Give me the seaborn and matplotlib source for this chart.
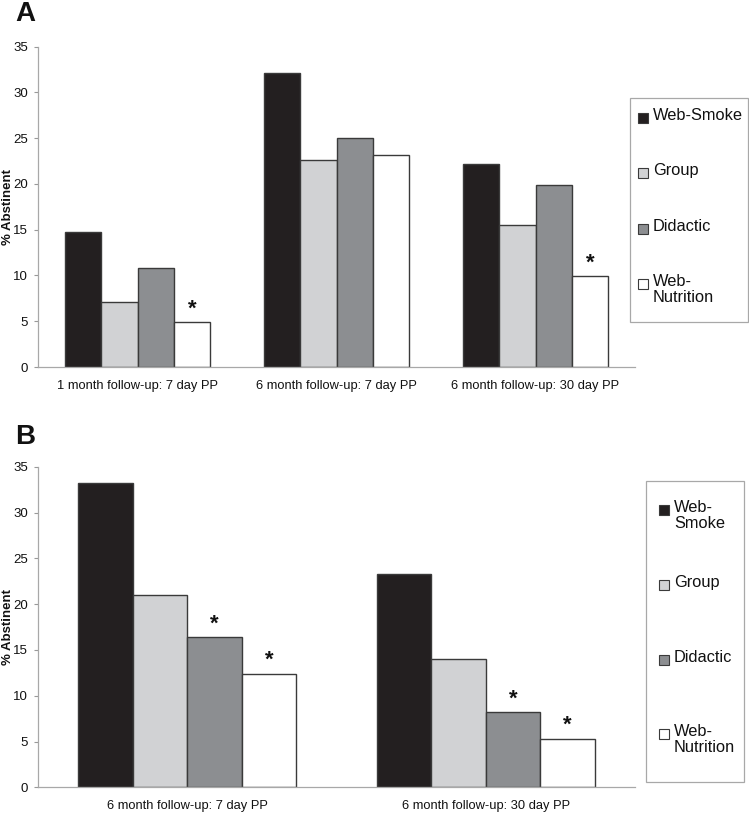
import matplotlib
matplotlib.use("Agg")
import matplotlib.pyplot as plt
import seaborn as sns
import pandas as pd
import numpy as np
from matplotlib.patches import Rectangle

# ---------------- data ----------------
groups = ["Web-Smoke", "Group", "Didactic", "Web-Nutrition"]

categories_A = ["1 month follow-up: 7 day PP", "6 month follow-up: 7 day PP",
                "6 month follow-up: 30 day PP"]
web_smoke_A = [14.8, 32.1, 22.2]
group_A = [7.1, 22.6, 15.5]
didactic_A = [10.8, 25.0, 19.9]
web_nutrition_A = [4.9, 23.2, 9.9]
sig_A = {"Web-Nutrition": [True, False, True]}

categories_B = ["6 month follow-up: 7 day PP", "6 month follow-up: 30 day PP"]
web_smoke_B = [33.2, 23.3]
group_B = [21.0, 14.0]
didactic_B = [16.4, 8.2]
web_nutrition_B = [12.4, 5.3]
sig_B = {"Didactic": [True, True], "Web-Nutrition": [True, True]}

yticks = [0, 5, 10, 15, 20, 25, 30, 35]
ylabel = "% Abstinent"

colors = ["#231f20", "#d1d2d4", "#8c8e91", "#ffffff"]

def make_df(cats, series):
    rows = []
    for g, vals in zip(groups, series):
        for c, v in zip(cats, vals):
            rows.append({"category": c, "group": g, "value": v})
    return pd.DataFrame(rows)

df_A = make_df(categories_A, [web_smoke_A, group_A, didactic_A, web_nutrition_A])
df_B = make_df(categories_B, [web_smoke_B, group_B, didactic_B, web_nutrition_B])

# ---------------- figure ----------------
sns.set_theme(style="white")
plt.rcParams["font.family"] = ["Liberation Sans", "DejaVu Sans"]

W, H = 749, 814
fig = plt.figure(figsize=(W / 100, H / 100), dpi=100)

def fx(px):
    return px / W

def fy(py):
    return 1 - py / H

ax_A = fig.add_axes([fx(38), fy(367), fx(635) - fx(38), fy(46.7) - fy(367)])
ax_B = fig.add_axes([fx(38), fy(787.3), fx(635) - fx(38), fy(466.7) - fy(787.3)])

def draw_panel(ax, df, cats, sig):
    sns.barplot(data=df, x="category", y="value", hue="group", hue_order=groups,
                order=cats, palette=colors, width=0.73, gap=0, ax=ax,
                edgecolor="#3a3a3a", linewidth=1.0, legend=False, errorbar=None,
                saturation=1)
    ax.set_ylim(0, 35)
    ax.set_xlim(-0.5, len(cats) - 0.5)
    ax.set_yticks(yticks)
    ax.set_yticklabels([str(t) for t in yticks], fontsize=9.5)
    ax.set_xticks(range(len(cats)))
    ax.set_xticklabels(cats, fontsize=9.3)
    ax.set_xticks(np.arange(-0.5, len(cats), 1.0), minor=True)
    ax.tick_params(axis="x", which="major", length=0, pad=9, colors="#111111")
    ax.tick_params(axis="x", which="minor", length=4, width=0.8, color="#999999")
    ax.tick_params(axis="y", which="major", length=3, width=0.8, color="#999999",
                   pad=4, labelcolor="#111111", left=True)
    ax.set_xlabel("")
    ax.set_ylabel(ylabel, fontsize=9.5, fontweight="bold", color="#111111")
    for s in ["top", "right"]:
        ax.spines[s].set_visible(False)
    for s in ["left", "bottom"]:
        ax.spines[s].set_color("#a8a8a8")
        ax.spines[s].set_linewidth(0.9)
    # significance asterisks
    for gi, g in enumerate(groups):
        if g not in sig:
            continue
        cont = ax.containers[gi]
        for ci, flag in enumerate(sig[g]):
            if flag:
                bar = cont[ci]
                ax.annotate("*", xy=(bar.get_x() + bar.get_width() / 2, bar.get_height()),
                            xytext=(0, 5.5), textcoords="offset points",
                            ha="center", va="baseline", fontsize=16,
                            fontweight="bold", color="#111111")

draw_panel(ax_A, df_A, categories_A, sig_A)
draw_panel(ax_B, df_B, categories_B, sig_B)
# y-label centre at ~8 px from the figure's left edge
for ax in (ax_A, ax_B):
    pos = ax.get_position()
    ax.yaxis.set_label_coords(-(pos.x0 - fx(8)) / pos.width, 0.5)
    ax.yaxis.label.set_va("center")

# panel letters
fig.text(fx(15), fy(21), "A", fontsize=20, fontweight="bold", ha="left", va="baseline",
         color="#111111")
fig.text(fx(15), fy(444), "B", fontsize=20, fontweight="bold", ha="left", va="baseline",
         color="#111111")

# legends (manual frame + entries)
def draw_legend(box, entries, marker_x, text_x):
    x0, y0, x1, y1 = box
    fig.add_artist(Rectangle((fx(x0), fy(y1)), fx(x1) - fx(x0), fy(y0) - fy(y1),
                             transform=fig.transFigure, facecolor="white",
                             edgecolor="#a8a8a8", linewidth=0.9))
    for (label, color, ytop) in entries:
        fig.add_artist(Rectangle((fx(marker_x), fy(ytop + 10)), fx(10), 10 / H,
                                 transform=fig.transFigure, facecolor=color,
                                 edgecolor="#3a3a3a", linewidth=0.8))
        fig.text(fx(text_x), fy(ytop - 5), label, fontsize=11.8, ha="left", va="top",
                 linespacing=1.1, color="#111111")

labels_A = ["Web-Smoke", "Group", "Didactic", "Web-\nNutrition"]
labels_B = ["Web-\nSmoke", "Group", "Didactic", "Web-\nNutrition"]
draw_legend((630, 98, 748, 322),
            list(zip(labels_A, colors, [113, 168, 224, 279])), 638, 653)
draw_legend((645.7, 481, 744, 782),
            list(zip(labels_B, colors, [505, 580, 655, 729])), 659, 674)

fig.savefig("out.png", dpi=100)
